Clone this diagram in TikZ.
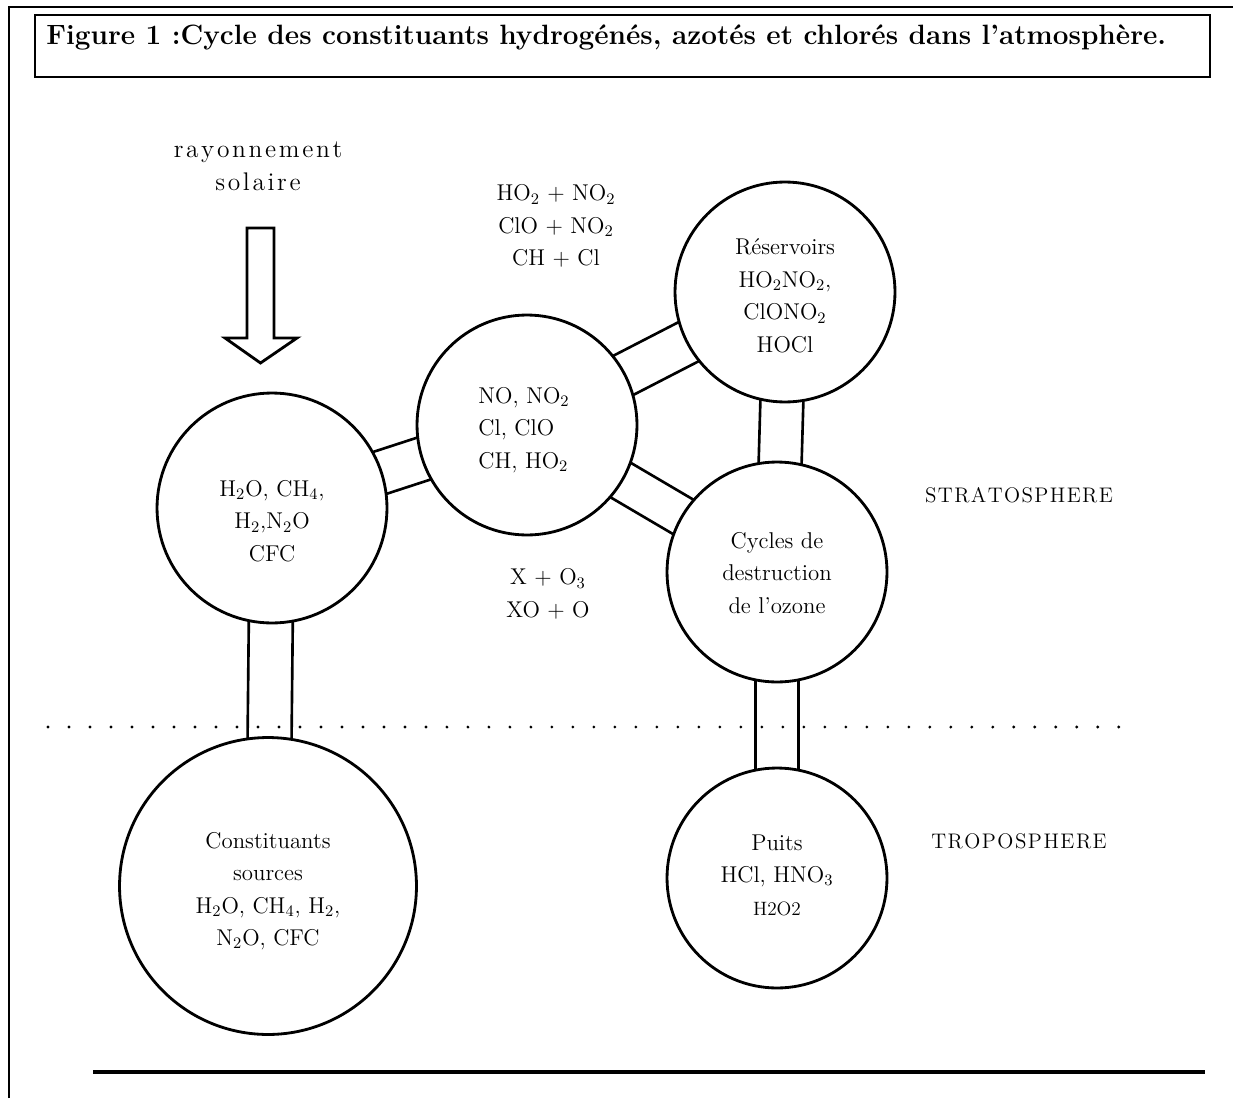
\documentclass[tikz,border=0pt]{standalone}
\usepackage{fontspec}
\usetikzlibrary{calc,backgrounds}
\newcommand\bandpair[3]{%
  \draw[band] ($(#1.center)!#3!90:(#2.center)$) -- ($(#2.center)!#3!-90:(#1.center)$);
  \draw[band] ($(#1.center)!#3!-90:(#2.center)$) -- ($(#2.center)!#3!90:(#1.center)$);}
\newcommand\sub[1]{\textsubscript{#1}}
\ExplSyntaxOn
\NewDocumentCommand\lspaced{mm}{\tl_map_inline:nn {#2}{##1\kern#1}\kern-#1}
\ExplSyntaxOff
\begin{document}
\begin{tikzpicture}[x=0.02cm,y=-0.02cm,
  bubble/.style={circle,draw,line width=1.6pt,fill=white,inner sep=0pt},
  band/.style={line width=1.5pt},
  ctext/.style={align=center,font=\fontsize{13}{18.5}\selectfont,inner sep=0pt},
  rtext/.style={align=center,font=\fontsize{13}{18.5}\selectfont,inner sep=0pt},
  layer/.style={font=\fontsize{12}{13}\selectfont,inner sep=0pt},
  frame/.style={line width=1.2pt},
  dotline/.style={line width=1.8pt,line cap=round,dash pattern=on 0pt off 0.42cm}]
\useasboundingbox (0,0) rectangle (1233,1098);
% frame and title
\draw[frame] (9,1098) -- (9,7) -- (1233,7);
\draw[frame] (35,15) rectangle (1210,77);
\node[anchor=west,inner sep=0pt,font=\fontsize{15.9}{18}\selectfont\bfseries] (title) at (46,37)
  {Figure 1 :Cycle des constituants hydrogénés, azotés et chlorés dans l'atmosphère.};
% circles
\node[bubble,minimum size=4.6cm]  (src)   at (272,508) {};
\node[bubble,minimum size=4.4cm]  (mid)   at (527,425) {};
\node[bubble,minimum size=4.4cm]  (res)   at (785,292) {};
\node[bubble,minimum size=4.4cm]  (cyc)   at (777,572) {};
\node[bubble,minimum size=5.94cm] (cons)  at (268,886) {};
\node[bubble,minimum size=4.4cm]  (puits) at (777,878) {};
% bands
\begin{pgfonlayer}{background}
  \bandpair{src}{cons}{0.44cm}
  \bandpair{src}{mid}{0.44cm}
  \bandpair{mid}{res}{0.44cm}
  \bandpair{mid}{cyc}{0.40cm}
  \bandpair{res}{cyc}{0.43cm}
  \bandpair{cyc}{puits}{0.43cm}
\end{pgfonlayer}
% circle texts
\node[ctext] (tsrc) at (272,521) {H\sub{2}O, CH\sub{4},\\ H\sub{2},N\sub{2}O\\ CFC};
\node[ctext,align=left] (tmid) at (524,430) {NO, NO\sub{2}\\ Cl, ClO\\ CH, HO\sub{2}};
\node[ctext] (tres) at (785,296) {Réservoirs\\ HO\sub{2}NO\sub{2},\\ ClONO\sub{2}\\ HOCl};
\node[ctext] (tcyc) at (777,573) {Cycles de\\ destruction\\ de l'ozone};
\node[ctext] (tcons) at (268,891) {Constituants\\ sources\\ H\sub{2}O, CH\sub{4}, H\sub{2},\\ N\sub{2}O, CFC};
\node[ctext] (tpuits) at (777,875) {Puits\\ HCl, HNO\sub{3}\\ {\fontsize{11}{13}\selectfont H2O2}};
% reactions
\node[rtext] (reac1) at (556,226) {HO\sub{2} + NO\sub{2}\\ ClO + NO\sub{2}\\ CH + Cl};
\node[rtext] (reac2) at (548,594) {X + O\sub{3}\\ XO + O};
% solar
\node[inner sep=0pt,align=center,font=\fontsize{14.5}{19}\selectfont] (sol) at (258,166)
  {\lspaced{1.5pt}{rayonnement}\\ \lspaced{1.5pt}{solaire}};
\draw[line width=1.6pt,fill=white] (247,228) -- (274,228) -- (274,338) -- (297,338) -- (260.5,363) -- (225,338) -- (247,338) -- cycle;
% layers
\draw[dotline] (48,727) -- (1135,727);
\node[layer] (strato) at (1019,495) {\lspaced{0.8pt}{STRATOSPHERE}};
\node[layer] (tropo) at (1019,841) {\lspaced{0.85pt}{TROPOSPHERE}};
\draw[line width=1.8pt] (93,1072) -- (1205,1072);
\end{tikzpicture}
\end{document}
